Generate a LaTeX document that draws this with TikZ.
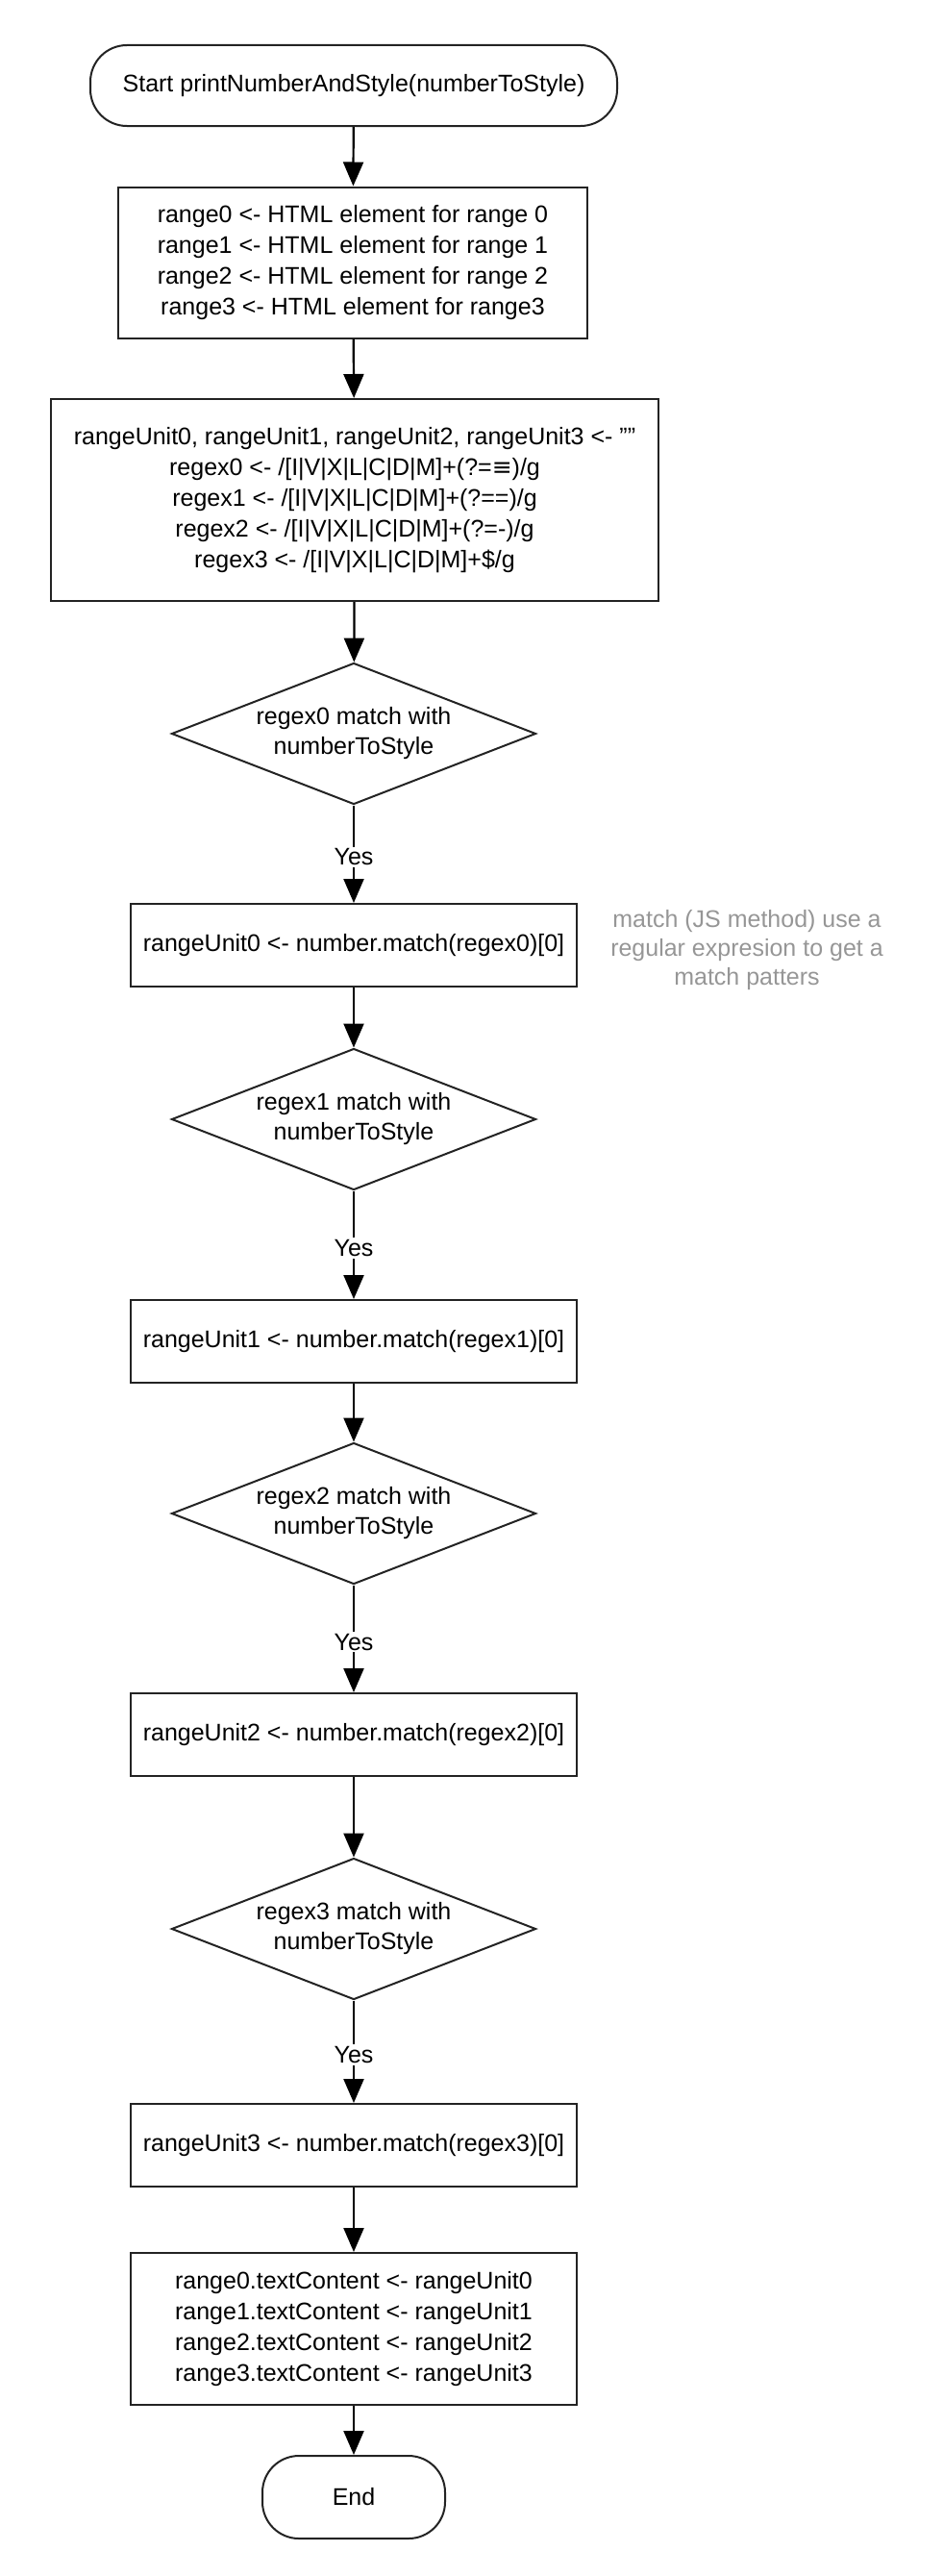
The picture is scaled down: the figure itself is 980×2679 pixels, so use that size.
\documentclass[tikz,border=0pt]{standalone}
\usepackage{fontspec}
\setmainfont{Liberation Sans}
\newfontfamily\symfont{DejaVu Sans}
\usepackage{xcolor}
\usetikzlibrary{arrows.meta, shapes.geometric}
\definecolor{linegray}{RGB}{35,35,35}
\definecolor{notegray}{RGB}{150,150,150}

\begin{document}
\begin{tikzpicture}[x=1pt, y=-1pt,
  term/.style={rectangle, rounded corners=38pt, draw=linegray, line width=2pt,
               minimum height=84pt, align=center, font=\fontsize{25}{32}\selectfont},
  proc/.style={rectangle, draw=linegray, line width=2pt, minimum width=464pt,
               minimum height=86pt, align=center, font=\fontsize{25}{32}\selectfont},
  dec/.style={diamond, aspect=2.58, draw=linegray, line width=2pt, inner sep=0pt,
              minimum width=379pt, minimum height=147pt,
              align=center, font=\fontsize{25}{31}\selectfont},
  arr/.style={-{Triangle[length=25pt, width=21pt]}, line width=2.2pt, draw=black},
  yes/.style={fill=white, inner sep=2pt, font=\fontsize{25}{32}\selectfont},
  note/.style={align=center, text=notegray, font=\fontsize{25}{30}\selectfont}
]
\useasboundingbox (0,0) rectangle (980,2679);

\node[term, minimum width=548pt] (start) at (368, 89) {Start printNumberAndStyle(numberToStyle)};

\node[proc, minimum width=488pt, minimum height=157pt] (init) at (367, 273)
  {range0 <- HTML element for range 0\\range1 <- HTML element for range 1\\
   range2 <- HTML element for range 2\\range3 <- HTML element for range3};

\node[proc, minimum width=632pt, minimum height=210pt] (regex) at (369, 520)
  {rangeUnit0, rangeUnit1, rangeUnit2, rangeUnit3 <- ""\\
   regex0 <- /[I|V|X|L|C|D|M]+(?={\symfont ≡})/g\\
   regex1 <- /[I|V|X|L|C|D|M]+(?==)/g\\
   regex2 <- /[I|V|X|L|C|D|M]+(?=-)/g\\
   regex3 <- /[I|V|X|L|C|D|M]+\$/g};

\node[dec] (test0) at (368, 763)  {regex0 match with\\numberToStyle};
\node[proc] (unit0) at (368, 983) {rangeUnit0 <- number.match(regex0)[0]};
\node[note] (hint) at (777, 988)
  {match (JS method) use a\\regular expresion to get a\\match patters};

\node[dec] (test1) at (368, 1164) {regex1 match with\\numberToStyle};
\node[proc] (unit1) at (368, 1395) {rangeUnit1 <- number.match(regex1)[0]};

\node[dec] (test2) at (368, 1574) {regex2 match with\\numberToStyle};
\node[proc] (unit2) at (368, 1804) {rangeUnit2 <- number.match(regex2)[0]};

\node[dec] (test3) at (368, 2006) {regex3 match with\\numberToStyle};
\node[proc] (unit3) at (368, 2231) {rangeUnit3 <- number.match(regex3)[0]};

\node[proc, minimum height=158pt] (show) at (368, 2422)
  {range0.textContent <- rangeUnit0\\range1.textContent <- rangeUnit1\\
   range2.textContent <- rangeUnit2\\range3.textContent <- rangeUnit3};

\node[term, minimum width=190pt, minimum height=86pt] (stop) at (368, 2597) {End};

\draw[arr] (start) -- (init);
\draw[arr] (init)  -- (regex);
\draw[arr] (regex) -- (test0);

\draw[arr] (test0) -- node[yes, pos=0.53]{Yes} (unit0);
\draw[arr] (unit0) -- (test1);
\draw[arr] (test1) -- node[yes, pos=0.53]{Yes} (unit1);
\draw[arr] (unit1) -- (test2);
\draw[arr] (test2) -- node[yes, pos=0.53]{Yes} (unit2);
\draw[arr] (unit2) -- (test3);
\draw[arr] (test3) -- node[yes, pos=0.53]{Yes} (unit3);

\draw[arr] (unit3) -- (show);
\draw[arr] (show)  -- (stop);

\end{tikzpicture}
\end{document}
